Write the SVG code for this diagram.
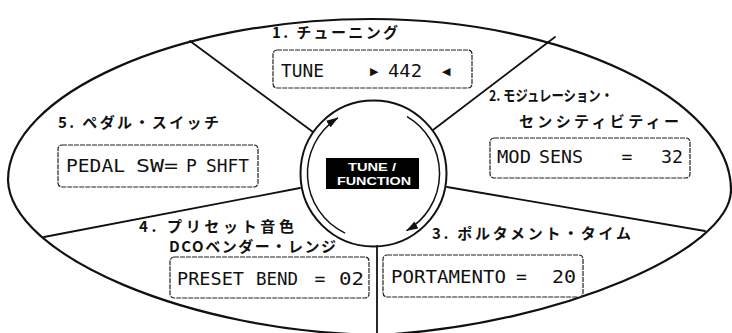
<svg xmlns="http://www.w3.org/2000/svg" width="732" height="333" viewBox="0 0 732 333">
<style>
.ln{fill:none;stroke:#111;stroke-linecap:round}
.box{fill:#fff;stroke:#222;stroke-width:1.2;stroke-dasharray:5 1}
.lcd{font-family:"DejaVu Sans Mono","Liberation Mono",monospace;font-size:18px;fill:#111}
.tri{font-family:"DejaVu Sans",sans-serif;font-size:11px;fill:#111}
.lbl{font-family:"Noto Sans CJK JP","Noto Sans",sans-serif;font-size:15px;font-weight:700;fill:#111}
.fn{font-family:"Liberation Sans",Arial,sans-serif;font-size:11.5px;font-weight:700;fill:#fff}
</style>
<defs>
<marker id="ah" viewBox="0 0 12 8" refX="11" refY="4" markerWidth="12" markerHeight="8" markerUnits="userSpaceOnUse" orient="auto">
<path d="M0,0 L12,4 L0,8 Z" fill="#111"/>
</marker>
</defs>
<rect width="732" height="333" fill="#fff"/>

<g id="outline">
<path class="ln" stroke-width="2.2" d="M8,180 C8,95 175,19 372,19 C565,19 731,100 731,190 C731,250 560,325 380,335 C190,333 10,255 8,180 Z"/>
</g>

<g id="connectors">
<line class="ln" stroke-width="1.8" x1="190" y1="41" x2="313" y2="132"/>
<line class="ln" stroke-width="1.8" x1="555" y1="37" x2="433" y2="130"/>
<line class="ln" stroke-width="1.8" x1="447" y1="187" x2="705" y2="231"/>
<line class="ln" stroke-width="1.8" x1="300" y1="188" x2="44" y2="237"/>
<line class="ln" stroke-width="1.8" x1="377" y1="246" x2="377" y2="340"/>
</g>

<g id="center">
<circle class="ln" stroke-width="2" cx="373.5" cy="173.5" r="73"/>
<path class="ln" stroke-width="1.5" marker-end="url(#ah)" d="M344.6,232.8 A66,66 0 0 1 337.5,118.1"/>
<path class="ln" stroke-width="1.5" marker-end="url(#ah)" d="M407.5,116.9 A66,66 0 0 1 407,230.4"/>
<rect x="326" y="158" width="93" height="31" fill="#000"/>
<text class="fn" x="348" y="171" textLength="48" lengthAdjust="spacingAndGlyphs">TUNE /</text>
<text class="fn" x="337" y="185" textLength="74" lengthAdjust="spacingAndGlyphs">FUNCTION</text>
</g>

<g id="node1">
<text class="lbl" x="272" y="37.5" textLength="126" lengthAdjust="spacing">1. チューニング</text>
<rect class="box" x="273" y="50" width="199" height="38" rx="4"/>
<text class="lcd" x="281" y="77" textLength="43" lengthAdjust="spacingAndGlyphs">TUNE</text>
<text class="tri" x="370" y="75">▶</text>
<text class="lcd" x="388" y="77" textLength="34" lengthAdjust="spacingAndGlyphs">442</text>
<text class="tri" x="442" y="75">◀</text>
</g>

<g id="node2">
<text class="lbl" x="489" y="100.5" textLength="124" lengthAdjust="spacingAndGlyphs">2. モジュレーション・</text>
<text class="lbl" x="519" y="126.5" textLength="160" lengthAdjust="spacing">センシティビティー</text>
<rect class="box" x="490" y="138" width="200" height="40" rx="4"/>
<text class="lcd" x="497" y="163" textLength="34" lengthAdjust="spacingAndGlyphs">MOD</text>
<text class="lcd" x="539" y="163" textLength="44" lengthAdjust="spacingAndGlyphs">SENS</text>
<text class="lcd" x="621.5" y="163">=</text>
<text class="lcd" x="661" y="163" textLength="22" lengthAdjust="spacingAndGlyphs">32</text>
</g>

<g id="node3">
<text class="lbl" x="432" y="238.5" textLength="199" lengthAdjust="spacing">3. ポルタメント・タイム</text>
<rect class="box" x="383" y="255" width="200" height="42" rx="4"/>
<text class="lcd" x="391" y="283" textLength="115" lengthAdjust="spacingAndGlyphs">PORTAMENTO</text>
<text class="lcd" x="516" y="283">=</text>
<text class="lcd" x="552" y="283" textLength="24" lengthAdjust="spacingAndGlyphs">20</text>
</g>

<g id="node4">
<text class="lbl" x="139" y="231.5" textLength="155" lengthAdjust="spacing">4. プリセット音色</text>
<text class="lbl" x="169" y="251.5" textLength="167" lengthAdjust="spacing">DCOベンダー・レンジ</text>
<rect class="box" x="170" y="257" width="199" height="41" rx="4"/>
<text class="lcd" x="177" y="285" textLength="67" lengthAdjust="spacingAndGlyphs">PRESET</text>
<text class="lcd" x="256" y="285" textLength="42" lengthAdjust="spacingAndGlyphs">BEND</text>
<text class="lcd" x="314.5" y="285">=</text>
<text class="lcd" x="339" y="285" textLength="25" lengthAdjust="spacingAndGlyphs">02</text>
</g>

<g id="node5">
<text class="lbl" x="58" y="128" textLength="161" lengthAdjust="spacing">5. ペダル・スイッチ</text>
<rect class="box" x="58" y="145" width="200" height="42" rx="4"/>
<text class="lcd" x="66" y="172" textLength="59" lengthAdjust="spacingAndGlyphs">PEDAL</text>
<text class="lcd" x="136" y="172" textLength="42" lengthAdjust="spacingAndGlyphs">SW=</text>
<text class="lcd" x="186" y="172">P</text>
<text class="lcd" x="206" y="172" textLength="43" lengthAdjust="spacingAndGlyphs">SHFT</text>
</g>
</svg>
